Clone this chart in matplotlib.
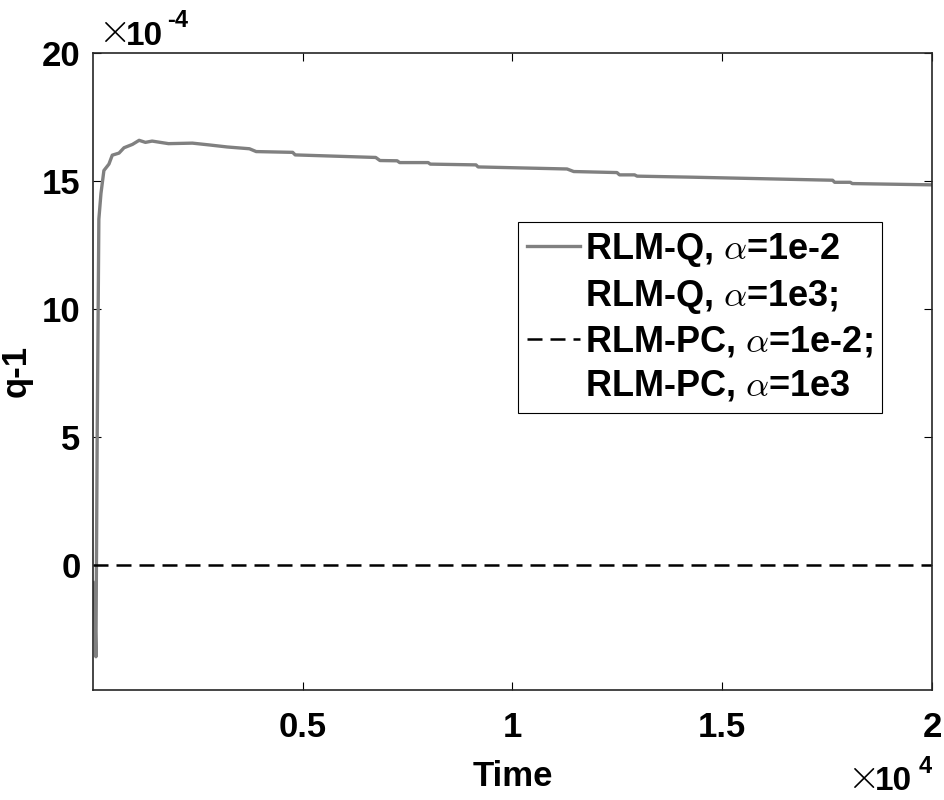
import matplotlib
matplotlib.use("Agg")
from matplotlib import pyplot as plt
from matplotlib.ticker import FuncFormatter

plt.rcParams['font.family'] = ['Liberation Sans', 'DejaVu Sans']
plt.rcParams['font.weight'] = 'bold'
plt.rcParams['mathtext.fontset'] = 'cm'

# RLM-Q, alpha=1e-2 (q-1 in units of 1e-4)
time_q = [0, 40, 70, 100, 140, 190, 260, 380, 460, 620, 740, 940, 1100, 1250, 1410,
          1800, 2370, 2770, 3200, 3730, 3890, 4760, 4820, 6740, 6840, 7250, 7310,
          7990, 8040, 9130, 9180, 11300, 11460, 12490, 12550, 12910, 12970, 14260,
          17630, 17680, 18050, 18100, 20000]
q_val = [-0.7, -1.5, -3.6, 5.0, 13.5, 14.5, 15.4, 15.65, 16.0, 16.08, 16.29, 16.42,
         16.58, 16.5, 16.55, 16.45, 16.47, 16.4, 16.32, 16.25, 16.14, 16.11, 16.01,
         15.91, 15.79, 15.78, 15.71, 15.71, 15.65, 15.62, 15.54, 15.46, 15.36, 15.32,
         15.23, 15.23, 15.18, 15.14, 15.02, 14.94, 14.94, 14.89, 14.84]
# RLM-PC, alpha=1e-2
time_pc = [0, 20000]
pc_val = [0, 0]

labels = ['RLM-Q, $\\alpha$=1e-2', 'RLM-Q, $\\alpha$=1e3;',
          'RLM-PC, $\\alpha$=1e-2;', 'RLM-PC, $\\alpha$=1e3']

fig = plt.figure(figsize=(9.44, 8), dpi=100)
ax = fig.add_axes([0.0985, 0.1375, 0.8888, 0.7965])

ax.plot(time_q, [v * 1e-4 for v in q_val], color='#808080', lw=2.4, label=labels[0])
ax.plot([], [], color='none', label=labels[1])
ax.plot(time_pc, [v * 1e-4 for v in pc_val], color='black', lw=1.8,
        dashes=(6, 3.2), label=labels[2])
ax.plot([], [], color='none', label=labels[3])

ax.set_xlim(0, 20000)
ax.set_ylim(-4.9e-4, 20e-4)
ax.set_xticks([5000, 10000, 15000, 20000])
ax.set_yticks([0, 5e-4, 10e-4, 15e-4, 20e-4])
ax.xaxis.set_major_formatter(FuncFormatter(lambda x, p: '%g' % (x / 1e4)))
ax.yaxis.set_major_formatter(FuncFormatter(lambda y, p: '%g' % round(y / 1e-4, 6)))
ax.tick_params(direction='in', length=6, width=0.8, top=True, right=True, labelsize=25)
ax.tick_params(axis='x', pad=15)
ax.tick_params(axis='y', pad=9)
for s in ax.spines.values():
    s.set_linewidth(1.2)
    s.set_color('#262626')

ax.set_xlabel('Time', fontsize=25, fontweight='bold', labelpad=12)
ax.set_ylabel('q-1', fontsize=25, fontweight='bold')
ax.yaxis.set_label_coords(-0.072, 0.5)

# exponent labels
fig.text(0.1035, 0.947, '$\\times$', fontsize=30, va='baseline')
fig.text(0.133, 0.944, '10', fontsize=24, fontweight='bold', va='baseline')
fig.text(0.177, 0.966, '-4', fontsize=17, fontweight='bold', va='baseline')
fig.text(0.897, 0.015, '$\\times$', fontsize=30, va='baseline')
fig.text(0.927, 0.013, '10', fontsize=24, fontweight='bold', va='baseline')
fig.text(0.973, 0.034, '4', fontsize=17, fontweight='bold', va='baseline')

leg = ax.legend(loc='upper left', bbox_to_anchor=(0.506, 0.735), fontsize=26,
                frameon=True, fancybox=False, framealpha=1, edgecolor='black',
                handlelength=1.47, handletextpad=0.15, labelspacing=0.25,
                borderpad=0.25, borderaxespad=0)
leg.get_frame().set_linewidth(0.8)
for t in leg.get_texts():
    t.set_fontweight('bold')

fig.savefig('out.png', dpi=100)
